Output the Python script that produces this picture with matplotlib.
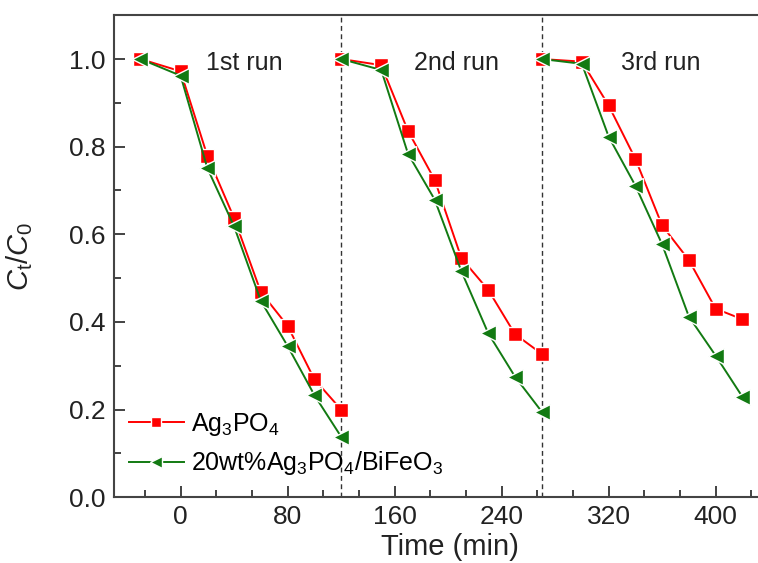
import numpy as np
import matplotlib
matplotlib.use("Agg")
import matplotlib.pyplot as plt
from matplotlib.ticker import MultipleLocator, FormatStrFormatter

plt.rcParams['font.family'] = ['Liberation Sans', 'DejaVu Sans']
plt.rcParams['mathtext.fontset'] = 'custom'
plt.rcParams['mathtext.rm'] = 'Liberation Sans'
plt.rcParams['mathtext.it'] = 'Liberation Sans:italic'

# time points of each run (axis units)
t_run1 = [-30, 0, 20, 40, 60, 80, 100, 120]
t_run2 = [120, 150, 170, 190, 210, 230, 250, 270]
t_run3 = [270, 300, 320, 340, 360, 380, 400, 420]

# Ag3PO4
ag_run1 = [1.0, 0.972, 0.779, 0.637, 0.468, 0.391, 0.269, 0.200]
ag_run2 = [1.0, 0.986, 0.836, 0.724, 0.545, 0.473, 0.372, 0.327]
ag_run3 = [1.0, 0.994, 0.894, 0.772, 0.620, 0.541, 0.430, 0.406]

# 20wt% Ag3PO4/BiFeO3
comp_run1 = [1.0, 0.962, 0.751, 0.618, 0.448, 0.345, 0.233, 0.138]
comp_run2 = [1.0, 0.975, 0.784, 0.679, 0.515, 0.374, 0.275, 0.195]
comp_run3 = [1.0, 0.989, 0.823, 0.711, 0.577, 0.412, 0.323, 0.229]

run_breaks = [120, 270]
run_labels = ['1st run', '2nd run', '3rd run']
run_label_x = [48, 206, 359]

red = '#ff0000'
green = '#127a12'

fig = plt.figure(figsize=(7.58, 5.63), dpi=100)
# axes run past the right edge of the picture, as in the reference
ax = fig.add_axes([0.150, 0.117, 0.900, 0.856])

runs_t = [t_run1, t_run2, t_run3]
runs_ag = [ag_run1, ag_run2, ag_run3]
runs_comp = [comp_run1, comp_run2, comp_run3]

for i in range(3):
    ax.plot(runs_t[i], runs_ag[i], '-s', color=red, lw=1.4, ms=10,
            mfc=red, mec='white', mew=1.0,
            label=r'Ag$_3$PO$_4$' if i == 0 else None, zorder=3)
    ax.plot(runs_t[i], runs_comp[i], '-<', color=green, lw=1.4, ms=11,
            mfc=green, mec='white', mew=1.0,
            label=r'20wt%Ag$_3$PO$_4$/BiFeO$_3$' if i == 0 else None, zorder=4)

for xb in run_breaks:
    ax.axvline(xb, color='#333333', ls=(0, (3.5, 2.5)), lw=1.0, zorder=1)

for lab, xl in zip(run_labels, run_label_x):
    ax.text(xl, 0.99, lab, fontsize=18, ha='center', va='center', color='#222222')

ax.set_xlim(-50, 460)
ax.set_ylim(0, 1.1)
ax.xaxis.set_major_locator(MultipleLocator(80))
ax.xaxis.set_minor_locator(MultipleLocator(80 / 3))
ax.yaxis.set_major_locator(MultipleLocator(0.2))
ax.yaxis.set_minor_locator(MultipleLocator(0.1))
ax.yaxis.set_major_formatter(FormatStrFormatter('%.1f'))

ax.tick_params(which='both', direction='in', top=False, right=False,
               labelsize=19, colors='#222222', width=1.2)
ax.tick_params(which='major', length=8, pad=6)
ax.tick_params(which='minor', length=5)
for sp in ax.spines.values():
    sp.set_linewidth(1.5)
    sp.set_color('#444444')

ax.set_xlabel('Time (min)', fontsize=21, color='#222222')
ax.set_ylabel(r'$C_\mathrm{t}/C_\mathrm{0}$', fontsize=21, color='#222222')
ax.xaxis.set_label_coords(0.493, -0.075)
ax.yaxis.set_label_coords(-0.115, 0.5)

leg = ax.legend(loc='lower left', bbox_to_anchor=(0.0, 0.01), frameon=False,
                fontsize=18, handlelength=2.2, handletextpad=0.3,
                labelspacing=0.45, markerscale=0.75, borderaxespad=0.2)

fig.savefig('out.png', dpi=100)
